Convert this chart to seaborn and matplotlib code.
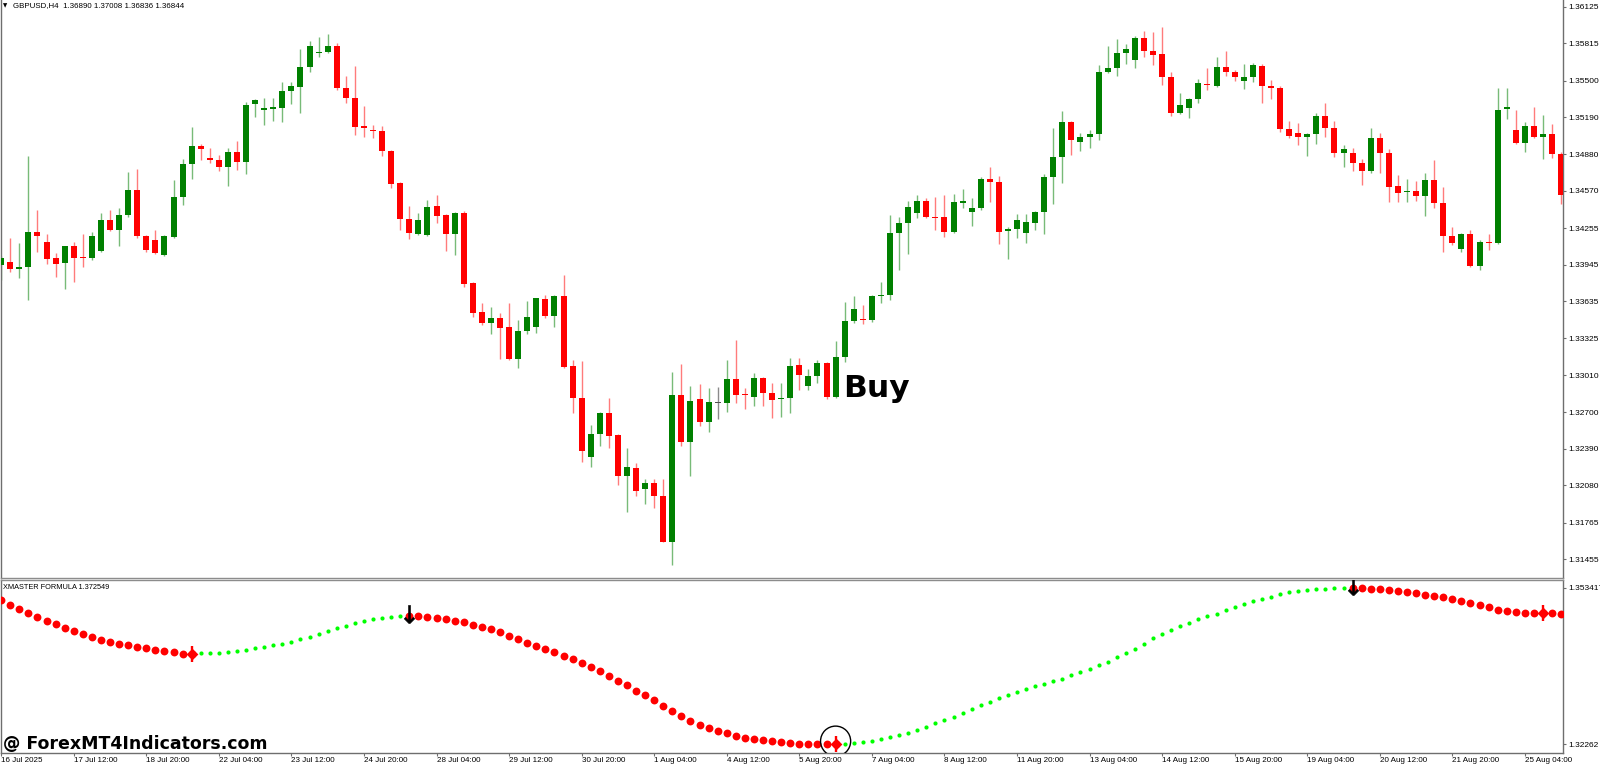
import numpy as np
import pandas as pd
import matplotlib
matplotlib.use("Agg")
import matplotlib.pyplot as plt
import matplotlib.transforms as mtransforms
import seaborn as sns

# ---------------- data ----------------
symbol_title = "GBPUSD,H4  1.36890 1.37008 1.36836 1.36844"
indicator_title = "XMASTER FORMULA 1.372549"
watermark = "@ ForexMT4Indicators.com"
signal_text = "Buy"

opens = [1.33943, 1.33968, 1.33909, 1.33926, 1.34222, 1.34137, 1.34002, 1.33960, 1.34103, 1.34011,
         1.34002, 1.34062, 1.34323, 1.34239, 1.34366, 1.34577, 1.34188, 1.34154, 1.34028, 1.34180,
         1.34518, 1.34796, 1.34948, 1.34847, 1.34830, 1.34771, 1.34898, 1.34813, 1.35303, 1.35253,
         1.35261, 1.35269, 1.35414, 1.35447, 1.35616, 1.35735, 1.35743, 1.35793, 1.35438, 1.35354,
         1.35117, 1.35084, 1.35076, 1.34907, 1.34636, 1.34332, 1.34205, 1.34197, 1.34441, 1.34366,
         1.34205, 1.34383, 1.33791, 1.33546, 1.33453, 1.33495, 1.33419, 1.33149, 1.33386, 1.33419,
         1.33656, 1.33512, 1.33681, 1.33089, 1.32819, 1.32321, 1.32515, 1.32693, 1.32507, 1.32160,
         1.32227, 1.32050, 1.32101, 1.31991, 1.31602, 1.32845, 1.32447, 1.32811, 1.32616, 1.32777,
         1.32777, 1.32980, 1.32853, 1.32828, 1.32988, 1.32862, 1.32811, 1.32819, 1.33098, 1.32920,
         1.33005, 1.33115, 1.32828, 1.33166, 1.33470, 1.33487, 1.33478, 1.33681, 1.33690, 1.34214,
         1.34298, 1.34383, 1.34484, 1.34349, 1.34349, 1.34222, 1.34467, 1.34391, 1.34424, 1.34670,
         1.34644, 1.34230, 1.34247, 1.34214, 1.34298, 1.34391, 1.34687, 1.34856, 1.35151, 1.34982,
         1.35025, 1.35050, 1.35574, 1.35607, 1.35735, 1.35675, 1.35861, 1.35752, 1.35726, 1.35532,
         1.35228, 1.35269, 1.35346, 1.35472, 1.35455, 1.35616, 1.35574, 1.35498, 1.35532, 1.35624,
         1.35455, 1.35438, 1.35092, 1.35059, 1.35025, 1.35050, 1.35202, 1.35100, 1.34890, 1.34890,
         1.34805, 1.34738, 1.35016, 1.34890, 1.34610, 1.34560, 1.34568, 1.34526, 1.34661, 1.34467,
         1.34188, 1.34078, 1.34205, 1.33934, 1.34137, 1.34129, 1.35261, 1.35084, 1.34974, 1.35117,
         1.35025, 1.35050, 1.34881]
highs = [1.34019, 1.34171, 1.34129, 1.34864, 1.34408, 1.34205, 1.34045, 1.34105, 1.34137, 1.34205,
         1.34222, 1.34383, 1.34408, 1.34424, 1.34729, 1.34754, 1.34197, 1.34239, 1.34197, 1.34661,
         1.34839, 1.35109, 1.34965, 1.34931, 1.34873, 1.34931, 1.34991, 1.35320, 1.35346, 1.35354,
         1.35354, 1.35489, 1.35489, 1.35768, 1.35836, 1.35870, 1.35895, 1.35819, 1.35540, 1.35624,
         1.35286, 1.35126, 1.35117, 1.34915, 1.34640, 1.34441, 1.34383, 1.34492, 1.34535, 1.34370,
         1.34391, 1.34400, 1.33799, 1.33622, 1.33588, 1.33538, 1.33622, 1.33478, 1.33639, 1.33668,
         1.33690, 1.33690, 1.33859, 1.33140, 1.33132, 1.32591, 1.32701, 1.32819, 1.32515, 1.32396,
         1.32270, 1.32135, 1.32135, 1.32135, 1.33039, 1.33106, 1.32920, 1.32937, 1.32903, 1.32912,
         1.33140, 1.33309, 1.32903, 1.33031, 1.32997, 1.32946, 1.32946, 1.33157, 1.33157, 1.33064,
         1.33140, 1.33123, 1.33301, 1.33630, 1.33681, 1.33605, 1.33690, 1.33799, 1.34366, 1.34349,
         1.34484, 1.34535, 1.34509, 1.34518, 1.34535, 1.34543, 1.34585, 1.34509, 1.34687, 1.34771,
         1.34695, 1.34264, 1.34374, 1.34374, 1.34400, 1.34712, 1.35100, 1.35245, 1.35160, 1.35059,
         1.35084, 1.35633, 1.35793, 1.35853, 1.35810, 1.35878, 1.35921, 1.35912, 1.35954, 1.35574,
         1.35397, 1.35354, 1.35515, 1.35607, 1.35701, 1.35752, 1.35591, 1.35641, 1.35650, 1.35641,
         1.35506, 1.35455, 1.35160, 1.35143, 1.35059, 1.35228, 1.35312, 1.35160, 1.34957, 1.34931,
         1.34839, 1.35100, 1.35059, 1.34923, 1.34704, 1.34670, 1.34653, 1.34721, 1.34830, 1.34602,
         1.34264, 1.34214, 1.34239, 1.34154, 1.34205, 1.35438, 1.35438, 1.35253, 1.35151, 1.35278,
         1.35211, 1.35134, 1.34898]
lows = [1.33816, 1.33884, 1.33833, 1.33647, 1.34053, 1.33951, 1.33842, 1.33740, 1.33799, 1.33926,
        1.33985, 1.34053, 1.34230, 1.34103, 1.34349, 1.34171, 1.34053, 1.34036, 1.34019, 1.34171,
        1.34450, 1.34670, 1.34830, 1.34805, 1.34738, 1.34610, 1.34746, 1.34712, 1.35194, 1.35126,
        1.35160, 1.35151, 1.35303, 1.35228, 1.35574, 1.35701, 1.35735, 1.35422, 1.35312, 1.35042,
        1.35025, 1.35016, 1.34864, 1.34593, 1.34239, 1.34163, 1.34197, 1.34188, 1.34298, 1.34062,
        1.34028, 1.33757, 1.33504, 1.33436, 1.33360, 1.33149, 1.33140, 1.33072, 1.33360, 1.33369,
        1.33495, 1.33419, 1.33072, 1.32693, 1.32278, 1.32236, 1.32413, 1.32396, 1.32084, 1.31856,
        1.31991, 1.31923, 1.31889, 1.31598, 1.31408, 1.32413, 1.32160, 1.32582, 1.32532, 1.32642,
        1.32701, 1.32777, 1.32726, 1.32751, 1.32751, 1.32650, 1.32659, 1.32693, 1.32887, 1.32887,
        1.32946, 1.32811, 1.32819, 1.33123, 1.33453, 1.33444, 1.33461, 1.33622, 1.33647, 1.33901,
        1.34036, 1.34340, 1.34340, 1.34239, 1.34180, 1.34214, 1.34424, 1.34272, 1.34408, 1.34475,
        1.34120, 1.33994, 1.34171, 1.34129, 1.34239, 1.34205, 1.34458, 1.34636, 1.34873, 1.34907,
        1.34931, 1.34999, 1.35566, 1.35540, 1.35641, 1.35607, 1.35701, 1.35633, 1.35464, 1.35202,
        1.35219, 1.35185, 1.35312, 1.35422, 1.35447, 1.35540, 1.35498, 1.35430, 1.35489, 1.35312,
        1.35346, 1.35067, 1.35016, 1.34957, 1.34864, 1.34965, 1.35025, 1.34856, 1.34771, 1.34738,
        1.34619, 1.34721, 1.34721, 1.34475, 1.34475, 1.34475, 1.34484, 1.34357, 1.34424, 1.34053,
        1.34112, 1.34053, 1.33926, 1.33901, 1.34070, 1.34120, 1.35177, 1.34965, 1.34898, 1.35016,
        1.34839, 1.34847, 1.34458]
closes = [1.34002, 1.33909, 1.33926, 1.34222, 1.34188, 1.33994, 1.33951, 1.34103, 1.34002, 1.34002,
          1.34188, 1.34323, 1.34239, 1.34366, 1.34577, 1.34188, 1.34070, 1.34045, 1.34188, 1.34518,
          1.34796, 1.34948, 1.34923, 1.34830, 1.34771, 1.34898, 1.34813, 1.35295, 1.35337, 1.35269,
          1.35278, 1.35414, 1.35455, 1.35616, 1.35793, 1.35743, 1.35793, 1.35438, 1.35354, 1.35109,
          1.35100, 1.35076, 1.34907, 1.34627, 1.34332, 1.34214, 1.34323, 1.34433, 1.34357, 1.34205,
          1.34383, 1.33782, 1.33538, 1.33453, 1.33495, 1.33410, 1.33149, 1.33386, 1.33504, 1.33664,
          1.33512, 1.33681, 1.33081, 1.32819, 1.32372, 1.32515, 1.32693, 1.32498, 1.32160, 1.32236,
          1.32034, 1.32101, 1.31991, 1.31602, 1.32845, 1.32447, 1.32794, 1.32616, 1.32785, 1.32777,
          1.32980, 1.32845, 1.32845, 1.32988, 1.32862, 1.32802, 1.32819, 1.33089, 1.33014, 1.33005,
          1.33115, 1.32828, 1.33166, 1.33470, 1.33571, 1.33478, 1.33681, 1.33690, 1.34214, 1.34298,
          1.34433, 1.34484, 1.34349, 1.34340, 1.34222, 1.34475, 1.34484, 1.34424, 1.34670, 1.34644,
          1.34222, 1.34247, 1.34323, 1.34306, 1.34391, 1.34687, 1.34856, 1.35151, 1.34999, 1.35025,
          1.35050, 1.35574, 1.35607, 1.35735, 1.35768, 1.35861, 1.35752, 1.35718, 1.35532, 1.35228,
          1.35295, 1.35346, 1.35481, 1.35464, 1.35616, 1.35574, 1.35532, 1.35532, 1.35633, 1.35455,
          1.35438, 1.35092, 1.35033, 1.35025, 1.35050, 1.35202, 1.35100, 1.34890, 1.34923, 1.34805,
          1.34738, 1.35016, 1.34890, 1.34602, 1.34551, 1.34568, 1.34526, 1.34661, 1.34467, 1.34188,
          1.34129, 1.34205, 1.33934, 1.34137, 1.34129, 1.35253, 1.35278, 1.34974, 1.35117, 1.35025,
          1.35050, 1.34881, 1.34535]

indicator = [1.35100, 1.35001, 1.34917, 1.34838, 1.34760, 1.34693, 1.34628, 1.34555, 1.34496, 1.34425,
             1.34366, 1.34313, 1.34268, 1.34235, 1.34209, 1.34176, 1.34156, 1.34117, 1.34091, 1.34071,
             1.34044, 1.34040, 1.34049, 1.34055, 1.34063, 1.34083, 1.34097, 1.34122, 1.34150, 1.34181,
             1.34209, 1.34240, 1.34280, 1.34327, 1.34378, 1.34425, 1.34490, 1.34549, 1.34589, 1.34642,
             1.34687, 1.34720, 1.34740, 1.34766, 1.34779, 1.34791, 1.34782, 1.34766, 1.34740, 1.34720,
             1.34693, 1.34661, 1.34614, 1.34575, 1.34524, 1.34465, 1.34398, 1.34333, 1.34260, 1.34195,
             1.34130, 1.34071, 1.34004, 1.33940, 1.33861, 1.33782, 1.33698, 1.33605, 1.33513, 1.33422,
             1.33316, 1.33226, 1.33127, 1.33015, 1.32917, 1.32813, 1.32726, 1.32647, 1.32583, 1.32524,
             1.32478, 1.32431, 1.32392, 1.32366, 1.32341, 1.32327, 1.32313, 1.32293, 1.32268, 1.32266,
             1.32262, 1.32262, 1.32265, 1.32274, 1.32288, 1.32313, 1.32333, 1.32366, 1.32400, 1.32439,
             1.32484, 1.32537, 1.32602, 1.32675, 1.32734, 1.32805, 1.32883, 1.32950, 1.33029, 1.33094,
             1.33167, 1.33237, 1.33285, 1.33344, 1.33403, 1.33454, 1.33501, 1.33552, 1.33625, 1.33678,
             1.33743, 1.33816, 1.33886, 1.33985, 1.34058, 1.34136, 1.34229, 1.34347, 1.34425, 1.34504,
             1.34583, 1.34653, 1.34726, 1.34785, 1.34830, 1.34903, 1.34956, 1.35015, 1.35074, 1.35125,
             1.35165, 1.35212, 1.35251, 1.35277, 1.35296, 1.35310, 1.35316, 1.35330, 1.35336, 1.35342,
             1.35332, 1.35322, 1.35310, 1.35296, 1.35277, 1.35257, 1.35232, 1.35204, 1.35178, 1.35153,
             1.35119, 1.35080, 1.35047, 1.35001, 1.34956, 1.34909, 1.34878, 1.34864, 1.34844, 1.34840,
             1.34838, 1.34840, 1.34832]

# trend runs of the indicator: (state, number of bars)
trend_runs = [("down", 22), ("up", 23), ("down", 48), ("up", 56), ("down", 24)]
up_arrows = [21, 92, 170]
down_arrows = [45, 149]
buy_signal = 92
buy_text_price = 1.32828

time_labels = ["16 Jul 2025", "17 Jul 12:00", "18 Jul 20:00", "22 Jul 04:00", "23 Jul 12:00",
               "24 Jul 20:00", "28 Jul 04:00", "29 Jul 12:00", "30 Jul 20:00", "1 Aug 04:00",
               "4 Aug 12:00", "5 Aug 20:00", "7 Aug 04:00", "8 Aug 12:00", "11 Aug 20:00",
               "13 Aug 04:00", "14 Aug 12:00", "15 Aug 20:00", "19 Aug 04:00", "20 Aug 12:00",
               "21 Aug 20:00", "25 Aug 04:00"]
bars_per_label = 8
price_ticks = [1.36125, 1.35815, 1.35500, 1.35190, 1.34880, 1.34570, 1.34255, 1.33945,
               1.33635, 1.33325, 1.33010, 1.32700, 1.32390, 1.32080, 1.31765, 1.31455]
ind_ticks = [1.353417, 1.32262]
ind_tick_labels = ["1.353417", "1.32262"]

# ---------------- styling ----------------
sns.set_theme(style="white")
plt.rcParams['font.family'] = ['Liberation Sans', 'DejaVu Sans']

W, H = 1600, 765
fig = plt.figure(figsize=(W / 100, H / 100), dpi=100, facecolor="white")
ax = fig.add_axes([1 / W, 1 - 578 / H, 1562 / W, 578 / H])
axi = fig.add_axes([1 / W, 1 - 752.5 / H, 1562 / W, 172.5 / H], sharex=ax)

GREEN = "#008000"
RED = "#ff0000"
GREEN_W = "#78bb78"
RED_W = "#ff7b7b"
AXC = "#6e6e6e"

df = pd.DataFrame({"o": opens, "h": highs, "l": lows, "c": closes})
df["x"] = np.arange(len(df))
up = df["c"] > df["o"]
dn = df["c"] < df["o"]
body_col = np.where(up, GREEN, np.where(dn, RED, "#505050"))
wick_col = np.where(up, GREEN_W, np.where(dn, RED_W, "#8a8a8a"))

ymin, ymax = 1.31298, 1.36182
px = (ymax - ymin) / 578.0

ax.vlines(df["x"], df["l"], df["h"], colors=wick_col, linewidth=1.0, zorder=2)
body_bottom = np.minimum(df["o"], df["c"])
body_h = np.maximum(np.abs(df["c"] - df["o"]), 1.1 * px)
ax.bar(df["x"], body_h, bottom=body_bottom, width=0.66, color=body_col,
       linewidth=0, zorder=3)

ax.set_xlim(-0.02, 172.2)
ax.set_ylim(ymin, ymax)

ax.text(buy_signal + 0.8, buy_text_price, signal_text, fontsize=22.5, fontweight="bold",
        family="DejaVu Sans", color="black", ha="left", va="baseline", zorder=5)

# ---------------- indicator ----------------
state = []
for s, n in trend_runs:
    state += [s] * n
idf = pd.DataFrame({"x": np.arange(len(indicator)), "v": indicator, "trend": state})

sns.scatterplot(data=idf[idf["trend"] == "up"], x="x", y="v", color="#00ff00", s=9,
                marker="o", linewidth=0, ax=axi, zorder=3, legend=False)
sns.scatterplot(data=idf[idf["trend"] == "down"], x="x", y="v", color=RED, s=32,
                marker="o", linewidth=0, ax=axi, zorder=3, legend=False)

ua = idf.loc[up_arrows]
axi.scatter(ua["x"], ua["v"], marker="|", s=120, color=RED, linewidths=1.7, zorder=4)
axi.scatter(ua["x"], ua["v"], marker="D", s=36, color=RED, linewidths=0, zorder=5)

da = idf.loc[down_arrows]
arr_tr = mtransforms.offset_copy(axi.transData, fig=fig, x=0, y=1.5, units="dots")
axi.scatter(da["x"], da["v"], marker=r"$\downarrow$", s=170, color="black",
            linewidths=0.4, zorder=6, transform=arr_tr)

circ_tr = mtransforms.offset_copy(axi.transData, fig=fig, x=0, y=3, units="dots")
axi.scatter([buy_signal], [indicator[buy_signal]], s=470, facecolors="none",
            edgecolors="black", linewidths=1.0, zorder=6, transform=circ_tr)

axi.set_ylim(1.32101, 1.35493)

# ---------------- axes cosmetics ----------------
for a in (ax, axi):
    a.set_xlabel("")
    a.set_ylabel("")
    a.set_facecolor("white")
    a.grid(False)
    a.yaxis.tick_right()
    for sp in a.spines.values():
        sp.set_color(AXC)
        sp.set_linewidth(1.0)
ax.spines["top"].set_visible(False)
ax.spines["bottom"].set_color("#8c8c8c")
axi.spines["top"].set_color("#8c8c8c")

ax.set_yticks(price_ticks)
ax.set_yticklabels([f"{v:.5f}" for v in price_ticks])
axi.set_yticks(ind_ticks)
axi.set_yticklabels(ind_tick_labels)
for a in (ax, axi):
    a.tick_params(axis="y", which="both", direction="out", length=2.5, width=0.8,
                  colors="black", labelsize=6, pad=1.0, left=False, right=True, color=AXC)

ax.tick_params(axis="x", bottom=False, labelbottom=False)
tick_pos = [i * bars_per_label for i in range(len(time_labels))]
axi.set_xticks(tick_pos)
axi.set_xticklabels(time_labels)
axi.tick_params(axis="x", direction="out", length=2.5, width=0.8, labelsize=5.8,
                pad=1.0, colors="black", color=AXC, bottom=True)
for lbl in axi.get_xticklabels():
    lbl.set_ha("left")

# ---------------- texts ----------------
fig.text(3 / W, 1 - 5.6 / H, "\u25bc", fontsize=4, family="DejaVu Sans", va="center",
         ha="left", color="black")
fig.text(13 / W, 1 - 5.7 / H, symbol_title, fontsize=5.7, va="center", ha="left",
         color="black")
fig.text(3 / W, 1 - 587.5 / H, indicator_title, fontsize=5.3, va="center", ha="left",
         color="black")
fig.text(3 / W, 1 - 749.5 / H, watermark, fontsize=12.5, fontweight="bold",
         family="DejaVu Sans", va="baseline", ha="left", color="black", zorder=10)

fig.savefig("out.png", dpi=100, facecolor="white")
